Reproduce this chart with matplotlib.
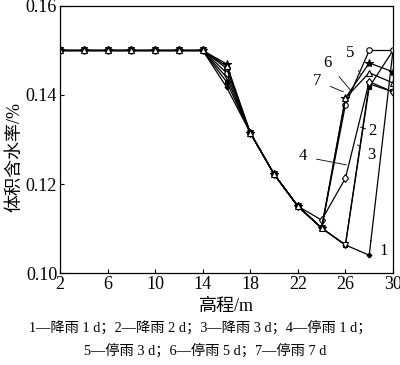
import matplotlib

matplotlib.use("Agg")
import matplotlib.pyplot as plt

plt.rcParams["font.family"] = ["Liberation Serif", "Noto Sans CJK SC"]

# elevation (m) and volumetric water content for the 7 cases
elev = [2, 4, 6, 8, 10, 12, 14, 16, 18, 20, 22, 24, 26, 28, 30]
flat = [0.15] * 7
wc1 = flat + [0.1418, 0.1315, 0.1222, 0.1150, 0.1101, 0.1063, 0.1040, 0.1500]
wc2 = flat + [0.1430, 0.1315, 0.1222, 0.1150, 0.1101, 0.1063, 0.1418, 0.1500]
wc3 = flat + [0.1440, 0.1315, 0.1222, 0.1150, 0.1101, 0.1063, 0.1425, 0.1407]
wc4 = flat + [0.1450, 0.1315, 0.1222, 0.1150, 0.1119, 0.1213, 0.1430, 0.1407]
wc5 = flat + [0.1460, 0.1315, 0.1222, 0.1150, 0.1101, 0.1378, 0.1500, 0.1500]
wc6 = flat + [0.1470, 0.1315, 0.1222, 0.1150, 0.1101, 0.1393, 0.1472, 0.1452]
wc7 = flat + [0.1465, 0.1315, 0.1222, 0.1150, 0.1101, 0.1393, 0.1450, 0.1427]

series = [wc1, wc2, wc3, wc4, wc5, wc6, wc7]
markers = ["D", "s", "v", "d", "o", "*", "^"]
fills = ["k", "k", "w", "w", "w", "k", "w"]
sizes = [2.5, 3.5, 5, 4.5, 4, 6, 5]

# curve labels: (text pos), (leader end)
tags = ["1", "2", "3", "4", "5", "6", "7"]
tag_xy = [(29.2, 0.1050), (28.3, 0.1318), (28.2, 0.1266), (22.4, 0.1262),
          (26.4, 0.1494), (24.5, 0.1472), (23.6, 0.1432)]
tag_end = [(28.08, 0.1074), (27.25, 0.1328), (27.0, 0.1288), (26.08, 0.1243),
           (27.25, 0.1447), (26.42, 0.1411), (25.83, 0.1407)]

fig = plt.figure(figsize=(4.0, 3.65), dpi=100)
ax = fig.add_axes([0.15, 0.252, 0.8325, 0.7316])

for wc, m, fc, ms in zip(series, markers, fills, sizes):
    ax.plot(elev, wc, color="k", lw=0.9, marker=m, ms=ms,
            mfc=fc, mec="k", mew=0.8)

for t, xy, end in zip(tags, tag_xy, tag_end):
    ax.annotate(t, xy=end, xytext=xy, fontsize=12, ha="center", va="center",
                arrowprops=dict(arrowstyle="-", lw=0.6, color="k",
                                shrinkA=5, shrinkB=0))

ax.set_xlim(2, 30)
ax.set_ylim(0.10, 0.16)
ax.set_xticks([2, 6, 10, 14, 18, 22, 26, 30])
ax.set_yticks([0.10, 0.12, 0.14, 0.16])
ax.set_yticklabels(["0.10", "0.12", "0.14", "0.16"])
ax.tick_params(direction="in", length=3, labelsize=13, width=0.8, pad=2)
for s in ax.spines.values():
    s.set_linewidth(0.9)

fig.text(226 / 400, 1 - 307 / 365, "高程/m", fontsize=13,
         ha="center", va="center")
fig.text(15 / 400, 1 - 157 / 365, "体积含水率/%", fontsize=13,
         ha="center", va="center", rotation=90)
fig.text(200 / 400, 1 - 328 / 365,
         "1—降雨 1 d；2—降雨 2 d；3—降雨 3 d；4—停雨 1 d；",
         fontsize=10.3, ha="center", va="center")
fig.text(205 / 400, 1 - 351 / 365,
         "5—停雨 3 d；6—停雨 5 d；7—停雨 7 d",
         fontsize=10.3, ha="center", va="center")

fig.savefig("out.png", dpi=100)
